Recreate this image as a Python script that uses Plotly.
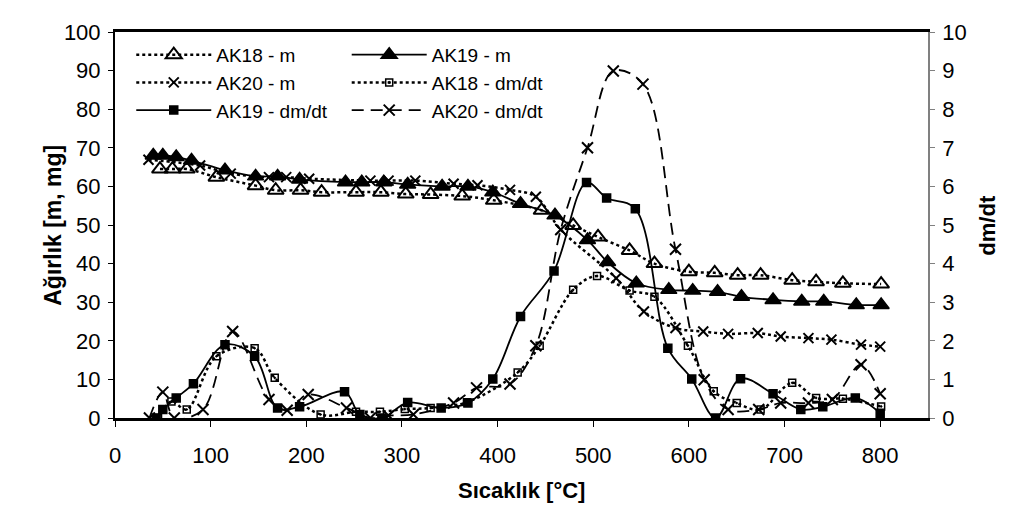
import plotly.graph_objects as go

# ---------------- data ----------------
t18_m = [47, 60, 75, 106, 147, 168, 194, 216, 252, 278, 304, 330, 363, 396, 446, 479, 505, 538, 564, 600, 627, 651, 675, 708, 733, 761, 801]
m18 = [64.5, 64.5, 64.5, 62.4, 60.2, 59.0, 59.0, 58.5, 58.5, 58.5, 58.0, 57.9, 57.5, 56.4, 53.8, 49.9, 46.9, 43.4, 40.0, 37.9, 37.6, 37.0, 37.0, 35.7, 35.3, 34.9, 34.7]

t19_m = [40, 50, 64, 80, 115, 147, 170, 193, 241, 258, 281, 306, 342, 369, 395, 424, 460, 494, 515, 545, 579, 604, 630, 655, 688, 718, 741, 775, 801]
m19 = [68.0, 68.0, 67.6, 66.7, 64.2, 62.6, 62.6, 61.8, 61.1, 61.1, 61.1, 60.5, 60.0, 60.0, 58.5, 55.5, 52.5, 46.1, 40.4, 34.9, 33.2, 33.0, 32.7, 31.4, 30.6, 30.2, 30.2, 29.3, 29.3]

t20_m = [35, 89, 121, 161, 179, 203, 267, 286, 314, 354, 379, 413, 440, 466, 524, 553, 586, 615, 641, 672, 696, 725, 749, 780, 800]
m20 = [66.9, 65.4, 63.3, 62.4, 62.4, 62.0, 61.5, 61.5, 61.5, 60.7, 60.3, 59.1, 57.3, 48.8, 36.2, 27.6, 23.3, 22.4, 21.8, 22.0, 21.1, 20.7, 20.3, 19.0, 18.5]

t18_d = [45, 59, 75, 106, 146, 167, 215, 252, 277, 303, 330, 368, 421, 444, 479, 504, 538, 564, 599, 626, 650, 675, 708, 733, 761, 801]
d18 = [0.0, 0.43, 0.22, 1.6, 1.81, 1.04, 0.09, 0.16, 0.16, 0.23, 0.26, 0.41, 1.18, 1.87, 3.32, 3.68, 3.30, 3.14, 1.87, 0.69, 0.39, 0.22, 0.91, 0.52, 0.50, 0.30]

t19_d = [43, 50, 64, 82, 115, 146, 170, 193, 240, 256, 279, 306, 341, 369, 395, 424, 459, 493, 514, 544, 578, 603, 628, 654, 688, 717, 740, 774, 800]
d19 = [0.0, 0.22, 0.52, 0.89, 1.9, 1.6, 0.26, 0.29, 0.68, 0.09, 0.0, 0.40, 0.26, 0.39, 1.01, 2.63, 3.81, 6.10, 5.70, 5.42, 1.81, 1.01, 0.0, 1.02, 0.63, 0.22, 0.29, 0.52, 0.12]

t20_d = [36, 50, 62, 92, 123, 161, 180, 202, 242, 267, 286, 312, 354, 378, 413, 440, 466, 494, 521, 552, 586, 616, 641, 673, 696, 725, 750, 780, 800]
d20 = [0.0, 0.67, 0.0, 0.22, 2.24, 0.48, 0.2, 0.61, 0.26, 0.0, 0.06, 0.09, 0.39, 0.78, 0.88, 1.87, 4.88, 7.0, 8.99, 8.65, 4.37, 0.99, 0.22, 0.22, 0.39, 0.39, 0.48, 1.38, 0.63]

x_ticks = [0, 100, 200, 300, 400, 500, 600, 700, 800]

# ---------------- figure ----------------
FONT = "Arial, Liberation Sans, sans-serif"
fig = go.Figure()

def add(x, y, name, dash, symbol, size, yaxis, legend, lw=2, mlw=1.5, fill="black"):
    fig.add_trace(go.Scatter(
        x=x, y=y, name=name, mode="lines+markers", yaxis=yaxis, legend=legend,
        line=dict(color="black", width=lw, dash=dash, shape="spline", smoothing=1.0),
        marker=dict(symbol=symbol, size=size, color=fill,
                    line=dict(color="black", width=mlw)),
    ))

add(t18_m, m18, "AK18 - m", "dot", "triangle-up-open", 14, "y", "legend", lw=2.5, mlw=2)
add(t19_m, m19, "AK19 - m", "solid", "triangle-up", 14, "y", "legend2", lw=1.8)
add(t20_m, m20, "AK20 - m", "dot", "x-thin", 10, "y", "legend", lw=2.5, mlw=2)
add(t18_d, d18, "AK18 - dm/dt", "dot", "square-open-dot", 7, "y2", "legend2", lw=2.5, mlw=1.5)
add(t19_d, d19, "AK19 - dm/dt", "solid", "square", 8, "y2", "legend", lw=1.8)
add(t20_d, d20, "AK20 - dm/dt", "12px,7px", "x-thin", 11, "y2", "legend2", lw=1.8, mlw=2)

leg_common = dict(font=dict(family=FONT, size=19, color="black"), bgcolor="rgba(0,0,0,0)",
                  itemwidth=75, tracegroupgap=0, orientation="v",
                  xanchor="left", yanchor="top", traceorder="normal")

fig.update_layout(
    width=1010, height=523,
    margin=dict(l=107, r=90, t=21, b=113),
    paper_bgcolor="white", plot_bgcolor="white",
    font=dict(family=FONT, size=18, color="black"),
    showlegend=True,
    legend=dict(x=0.02, y=0.99, **leg_common),
    legend2=dict(x=0.285, y=0.99, **leg_common),
    xaxis=dict(range=[0, 850], tickvals=x_ticks, ticks="outside", ticklen=6, tickwidth=1,
               tickcolor="black", showline=True, linecolor="black", linewidth=2.5,
               mirror=True, showgrid=False, zeroline=False, ticklabelstandoff=10,
               tickfont=dict(family=FONT, size=22)),
    yaxis=dict(range=[0, 100], dtick=10, ticks="outside", ticklen=5, tickcolor="black",
               showline=True, linecolor="black", linewidth=2, showgrid=False, zeroline=False,
               ticklabelstandoff=3, tickfont=dict(family=FONT, size=22)),
    yaxis2=dict(range=[0, 10], dtick=1, overlaying="y", side="right", ticks="outside",
                ticklen=5, tickcolor="#808080", showline=True, linecolor="#808080", linewidth=1.5,
                showgrid=False, zeroline=False, ticklabelstandoff=3,
                tickfont=dict(family=FONT, size=22)),
    annotations=[
        dict(text="<b>Ağırlık [m, mg]</b>", xref="paper", yref="paper", x=-0.095, y=0.5,
             textangle=-90, showarrow=False, font=dict(family=FONT, size=23)),
        dict(text="<b>dm/dt</b>", xref="paper", yref="paper", x=1.09, y=0.5,
             textangle=-90, showarrow=False, font=dict(family=FONT, size=22)),
        dict(text="<b>Sıcaklık [°C]</b>", xref="paper", yref="paper", x=0.5, y=-0.225,
             showarrow=False, font=dict(family=FONT, size=22)),
    ],
)

fig.write_html("out.html")
